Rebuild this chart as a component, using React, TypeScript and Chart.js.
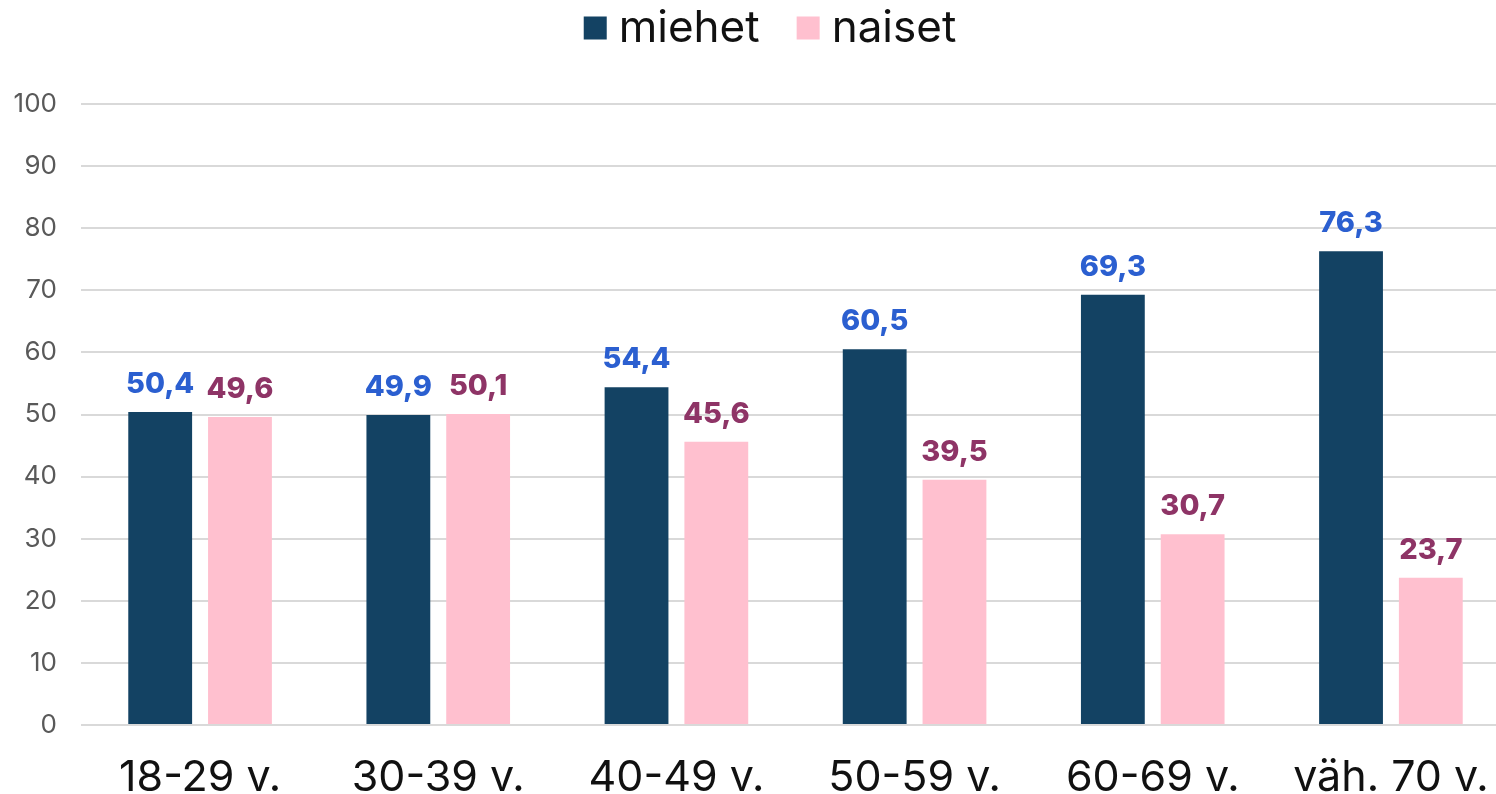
import React, { useEffect, useRef } from "react";
import { Chart, registerables } from "chart.js";

Chart.register(...registerables);

const categories = ["18-29 v.", "30-39 v.", "40-49 v.", "50-59 v.", "60-69 v.", "väh. 70 v."];
const miehet = [50.4, 49.9, 54.4, 60.5, 69.3, 76.3];
const naiset = [49.6, 50.1, 45.6, 39.5, 30.7, 23.7];
const seriesNames = ["miehet", "naiset"];
const seriesColors = ["#134263", "#ffc0cf"];
const labelColors = ["#2b5fd0", "#8e3466"];

const FONT = "Inter, 'Noto Sans', sans-serif";

const valueLabels = {
  id: "valueLabels",
  afterDatasetsDraw(chart: any) {
    const ctx = chart.ctx;
    ctx.save();
    ctx.font = `800 29px ${FONT}`;
    ctx.textAlign = "center";
    ctx.textBaseline = "alphabetic";
    chart.data.datasets.forEach((ds: any, di: number) => {
      const meta = chart.getDatasetMeta(di);
      meta.data.forEach((bar: any, i: number) => {
        ctx.fillStyle = labelColors[di];
        ctx.fillText(String(ds.data[i]).replace(".", ","), bar.x, bar.y - 19);
      });
    });
    ctx.restore();
  },
};

const customLegend = {
  id: "customLegend",
  afterDraw(chart: any) {
    const ctx = chart.ctx;
    ctx.save();
    ctx.font = `44px ${FONT}`;
    ctx.textBaseline = "middle";
    ctx.textAlign = "left";
    const box = 23;
    const gapBox = 12;
    const gapItem = 37;
    const widths = seriesNames.map((n) => ctx.measureText(n).width);
    const total = widths.reduce((a, w) => a + box + gapBox + w, 0) + gapItem * (seriesNames.length - 1);
    let x = 770 - total / 2;
    const cy = 28;
    seriesNames.forEach((n, i) => {
      ctx.fillStyle = seriesColors[i];
      ctx.fillRect(x, cy - box / 2, box, box);
      x += box + gapBox;
      ctx.fillStyle = "#111";
      ctx.fillText(n, x, cy + 1);
      x += widths[i] + gapItem;
    });
    ctx.restore();
  },
};

export default function App() {
  const ref = useRef<HTMLCanvasElement>(null);
  useEffect(() => {
    const chart = new Chart(ref.current!, {
      type: "bar",
      data: {
        labels: categories,
        datasets: [
          { label: seriesNames[0], data: miehet, backgroundColor: seriesColors[0] },
          { label: seriesNames[1], data: naiset, backgroundColor: seriesColors[1] },
        ],
      },
      options: {
        animation: false,
        responsive: false,
        maintainAspectRatio: false,
        layout: { padding: { top: 104, right: 0, bottom: 0, left: 0 } },
        plugins: {
          legend: { display: false },
          tooltip: { enabled: false },
        },
        datasets: {
          bar: { categoryPercentage: 0.67, barPercentage: 0.8 },
        } as any,
        scales: {
          x: {
            grid: { display: false, drawTicks: false },
            border: { display: false },
            ticks: { font: { family: FONT, size: 43 }, color: "#111", padding: 27, maxRotation: 0, autoSkip: false },
            afterFit(scale: any) {
              scale.height = 69;
              scale.paddingLeft = 0;
              scale.paddingRight = 0;
            },
          },
          y: {
            min: 0,
            max: 100,
            ticks: { stepSize: 10, font: { family: FONT, size: 26 }, color: "#595959", padding: 24 },
            grid: { color: "#d9d9d9", lineWidth: 2, drawTicks: false },
            border: { display: false },
            afterFit(scale: any) {
              scale.width = 81;
              scale.paddingTop = 0;
              scale.paddingBottom = 0;
            },
          },
        },
      },
      plugins: [valueLabels, customLegend],
    });
    return () => chart.destroy();
  }, []);
  return (
    <div style={{ position: "fixed", left: 0, top: 0, width: 1496, height: 794, overflow: "hidden", background: "#fff" }}>
      <canvas ref={ref} width={1510} height={794} style={{ display: "block" }} />
    </div>
  );
}
